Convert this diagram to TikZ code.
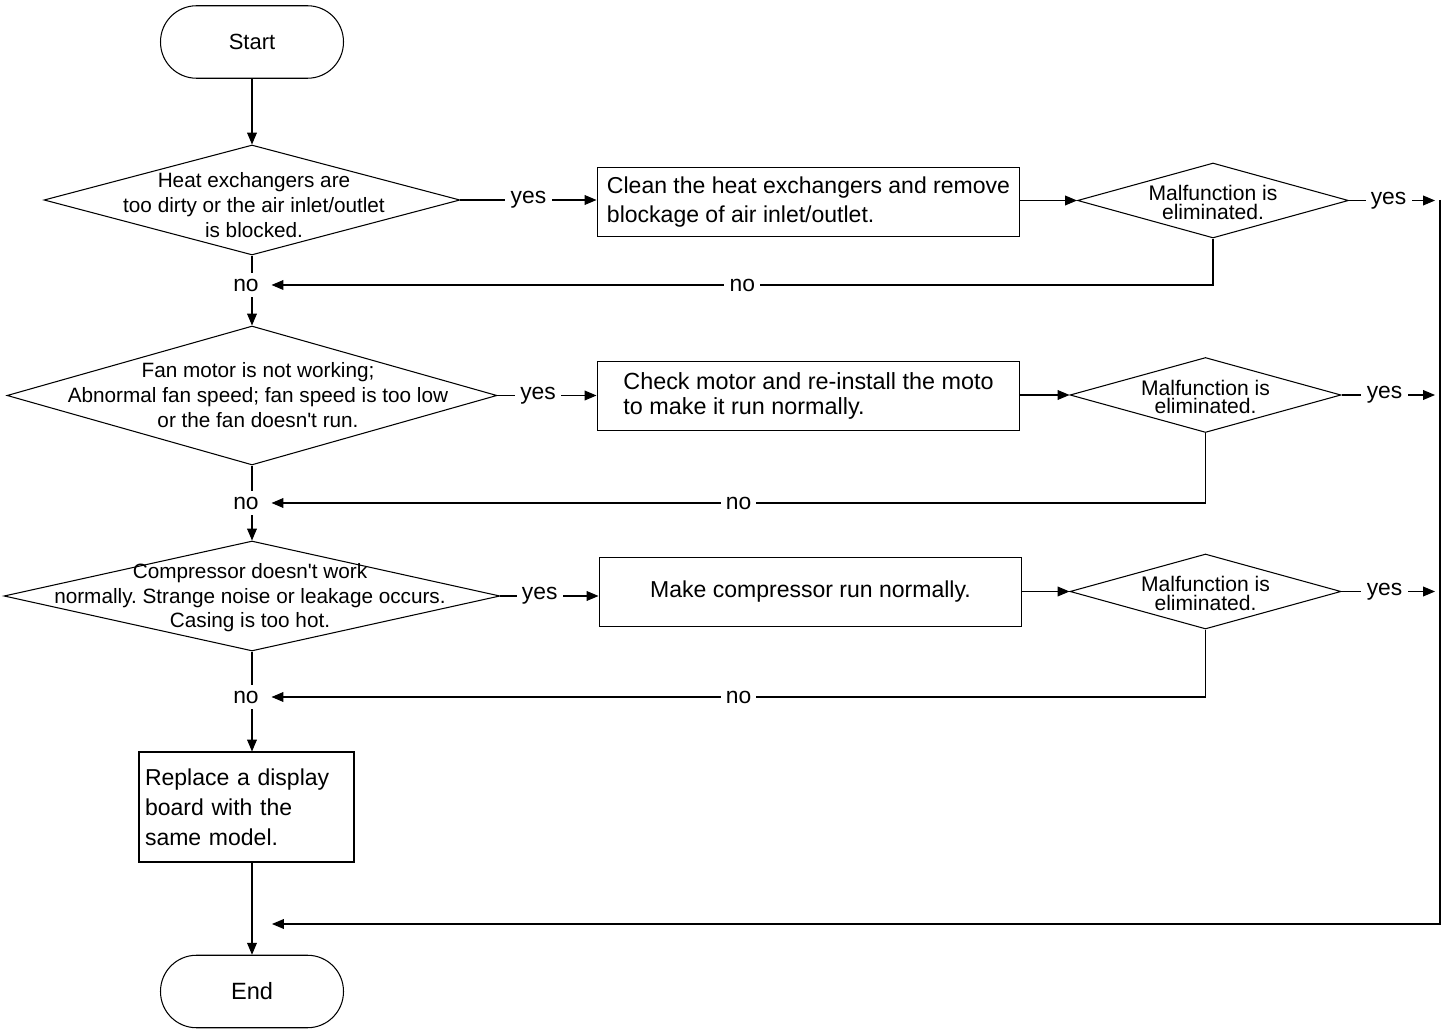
\documentclass[tikz,border=0pt]{standalone}
\usepackage{fontspec}
\setmainfont{Liberation Sans}
\frenchspacing
\usetikzlibrary{shapes.geometric,arrows.meta}

\begin{document}
\begin{tikzpicture}[x=0.02cm, y=-0.02cm, line width=0.6pt,
    >={Triangle[length=6.8pt,width=5.6pt]},
    terminal/.style={draw, rectangle, rounded corners=0.72cm, minimum width=3.66cm,
        minimum height=1.45cm, font=\fontsize{12.5}{15}\selectfont},
    process/.style={draw, rectangle, minimum width=8.46cm, minimum height=1.38cm,
        font=\fontsize{13.1}{17}\selectfont},
    decision/.style={draw, diamond, inner sep=0pt},
    cond/.style={align=center, inner sep=0pt, font=\fontsize{11.8}{14}\selectfont},
    check/.style={align=center, inner sep=0pt, font=\fontsize{12}{10.5}\selectfont},
    lbl/.style={fill=white, inner sep=3pt, font=\fontsize{13}{15}\selectfont},
    nolbl/.style={lbl, inner xsep=7pt}]
    \useasboundingbox (0,0) rectangle (1448,1033);

    % main column
    \node[terminal] (start) at (252,42) {Start};
    \node[decision, minimum width=8.32cm, minimum height=2.2cm] (d1) at (252,200) {};
    \node[cond] (d1txt) at (254,205) {Heat exchangers are\\too dirty or the air inlet/outlet\\is blocked.};
    \node[nolbl] (n1) at (246,285) {no};
    \node[decision, minimum width=9.8cm, minimum height=2.78cm] (d2) at (252,395.5) {};
    \node[cond] (d2txt) at (258,395) {Fan motor is not working;\\Abnormal fan speed; fan speed is too low\\or the fan doesn\textquotesingle t run.};
    \node[nolbl] (n2) at (246,503) {no};
    \node[decision, minimum width=9.92cm, minimum height=2.2cm] (d3) at (252,596) {};
    \node[cond] (d3txt) at (250,598) {Compressor doesn\textquotesingle t work\\normally. Strange noise or leakage occurs.\\Casing is too hot.};
    \node[nolbl] (n3) at (246,697) {no};
    \node[process, minimum width=4.3cm, minimum height=2.2cm, text width=4.06cm,
        inner xsep=0.12cm, align=left] (b4) at (246.5,807) {Replace a display\\board with the\\same model.};
    \node[terminal, font=\fontsize{13.4}{16}\selectfont] (end) at (252,991.5) {End};

    % repair boxes
    \node[process, align=left] (b1) at (808.5,202) {Clean the heat exchangers and remove\\blockage of air inlet/outlet.};
    \node[process, align=left, font=\fontsize{13.3}{14}\selectfont] (b2) at (808.5,396) {Check motor and re-install the moto\\to make it run normally.};
    \node[process] (b3) at (810.5,592) {Make compressor run normally.};

    \draw[->] (start) -- (d1);
    \draw (d1.south) -- (d1.south |- n1.north);
    \draw[->] (d2.north |- n1.south) -- (d2.north);
    \draw (d2.south) -- (d2.south |- n2.north);
    \draw[->] (d3.north |- n2.south) -- (d3.north);
    \draw (d3.south) -- (d3.south |- n3.north);
    \draw[->] (end.north |- n3.south) -- (end.north |- b4.north);
    \draw[->] (end.north |- b4.south) -- (end.north);
    \draw[->] (d1.east) -- node[lbl, pos=0.5]{yes} (d1.east -| b1.west);
    \draw[->] (d2.east) -- node[lbl, pos=0.41]{yes} (d2.east -| b2.west);
    \draw[->] (d3.east) -- node[lbl, pos=0.4]{yes} (d3.east -| b3.west);

    % return rail
    \coordinate (railin) at (1435,200);
    \coordinate (railtop) at (1440,200);
    \coordinate (back) at (272,924);
    \draw[->] (railtop) |- (back);

    \foreach \i/\mx/\my in {1/1213/200.5, 2/1205.5/395, 3/1205.5/591.5}{
        \node[decision, minimum width=5.42cm, minimum height=1.5cm] (m\i) at (\mx,\my) {};
        \node[check] (m\i txt) at (\mx,\my+2) {Malfunction is\\eliminated.};
        \draw[->] (m\i.west -| b\i.east) -- (m\i.west);
        \draw[->] (m\i.east) -- node[lbl, pos=0.46]{yes} (m\i.east -| railin);
        \draw[->] (m\i.south) |- node[lbl, pos=0.75]{no} (n\i.east);
    }
\end{tikzpicture}
\end{document}
